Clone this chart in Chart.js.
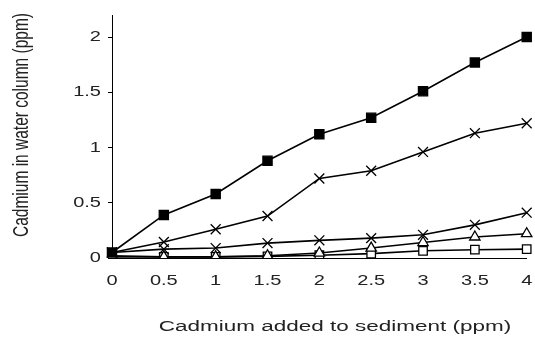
<!DOCTYPE html>
<html>
<head>
<meta charset="utf-8">
<script src="https://cdn.jsdelivr.net/npm/chart.js@4"></script>
<style>
  html, body { margin: 0; padding: 0; background: #fff; }
  #wrap { width: 535px; height: 343px; }
</style>
</head>
<body>
<div id="wrap"><canvas id="cdChart"></canvas></div>
<script>
//--------------------------------------------Data
const categories = ['0', '0.5', '1', '1.5', '2', '2.5', '3', '3.5', '4'];

const filledSquare = [0.05, 0.39, 0.58, 0.88, 1.12, 1.27, 1.51, 1.77, 2.0];
const crossUpper   = [0.05, 0.145, 0.26, 0.38, 0.72, 0.79, 0.96, 1.13, 1.22];
const crossLower   = [0.05, 0.08, 0.09, 0.135, 0.16, 0.18, 0.21, 0.30, 0.41];
const triangle     = [0.02, 0.01, 0.01, 0.02, 0.045, 0.09, 0.14, 0.19, 0.22];
const openSquare   = [0.01, 0.01, 0.01, 0.015, 0.025, 0.04, 0.065, 0.075, 0.08];

const yTicks = [0, 0.5, 1, 1.5, 2];

const xTitle = 'Cadmium added to sediment (ppm)';
const yTitle = 'Cadmium in water column (ppm)';

//--------------------------------------------Chart
const font = 'Liberation Sans';
const textColor = '#222';
// the scanned figure is wider than tall, so text is drawn a bit stretched
const stretch = 1.38;

function series(label, values, style, fill, radius) {
    return {
        label: label,
        data: values,
        borderColor: '#000',
        borderWidth: 1.6,
        pointStyle: style,
        pointRadius: radius,
        pointBorderWidth: 1.3,
        pointBorderColor: '#000',
        pointBackgroundColor: fill,
        tension: 0,
        fill: false,
    };
}

function stretchedText(ctx, text, x, y, align, size, rotate, sx) {
    ctx.save();
    ctx.translate(x, y);
    ctx.scale(sx || stretch, 1);
    if (rotate) ctx.rotate(-Math.PI / 2);
    ctx.font = size + 'px "' + font + '"';
    ctx.fillStyle = textColor;
    ctx.textAlign = align;
    ctx.textBaseline = 'middle';
    ctx.fillText(text, 0, 0);
    ctx.restore();
}

const labelsPlugin = {
    id: 'labelsPlugin',
    afterDraw(chart) {
        const ctx = chart.ctx;
        const xs = chart.scales.x;
        const ys = chart.scales.y;
        xs.ticks.forEach((t, i) => {
            stretchedText(ctx, categories[i], xs.getPixelForTick(i), 281, 'center', 14.5);
        });
        ys.ticks.forEach((t) => {
            stretchedText(ctx, String(t.value), 101, ys.getPixelForValue(t.value), 'right', 14.5);
        });
        stretchedText(ctx, xTitle, 335, 327, 'center', 15.5, false, 1.45);
        stretchedText(ctx, yTitle, 22, 125, 'center', 15.5, true);
    }
};

const config = {
    type: 'line',
    data: {
        labels: categories,
        datasets: [
            series('A', filledSquare, 'rect', '#000', 6.5),
            series('B', crossUpper, 'crossRot', '#000', 7),
            series('C', crossLower, 'crossRot', '#000', 7),
            series('D', triangle, 'triangle', '#fff', 6),
            series('E', openSquare, 'rect', '#fff', 6),
        ]
    },
    options: {
        responsive: true,
        maintainAspectRatio: false,
        animation: false,
        layout: {
            padding: { top: 15, right: 8, left: 0, bottom: 0 }
        },
        plugins: {
            legend: { display: false },
            title: { display: false },
            tooltip: { enabled: false }
        },
        scales: {
            x: {
                offset: false,
                afterFit: (axis) => { axis.height = 85; },
                grid: { display: false, drawTicks: false },
                border: { display: true, color: '#000', width: 1 },
                ticks: { display: false }
            },
            y: {
                min: 0,
                max: 2.2,
                afterBuildTicks: (axis) => {
                    axis.ticks = yTicks.map(v => ({ value: v }));
                },
                afterFit: (axis) => { axis.width = 112; },
                grid: { display: true, drawOnChartArea: false, tickLength: 4, color: '#000' },
                border: { display: true, color: '#000', width: 1 },
                ticks: { display: false }
            }
        }
    },
    plugins: [labelsPlugin]
};

new Chart(document.getElementById('cdChart'), config);
</script>
</body>
</html>
